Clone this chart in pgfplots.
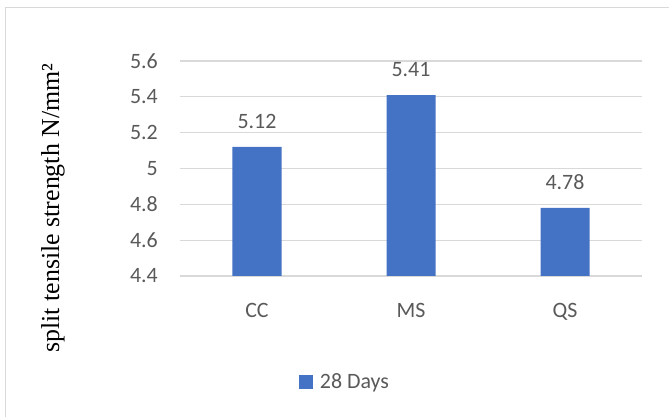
\documentclass[border=0pt]{standalone}
\usepackage{fontspec}
\setmainfont{Liberation Serif}
\newfontfamily\carlito{Carlito}
\usepackage{pgfplots}
\pgfplotsset{compat=1.18}
\definecolor{barblue}{HTML}{4472C4}
\definecolor{txtgray}{HTML}{595959}
\definecolor{gridgray}{HTML}{D9D9D9}
\begin{document}
\begin{tikzpicture}
\useasboundingbox (0,0) rectangle (669bp,417bp);
\begin{axis}[
  at={(180bp,141bp)}, anchor=south west,
  scale only axis, width=462bp, height=215bp,
  ymin=4.4, ymax=5.6,
  ytick={4.4,4.6,4.8,5,5.2,5.4,5.6},
  xmin=-0.5, xmax=2.5,
  xtick={0,1,2}, xticklabels={CC,MS,QS},
  axis line style={draw=none},
  major tick length=0pt,
  ymajorgrids, grid style={gridgray, line width=1.2bp},
  /pgf/number format/assume math mode=true,
  tick label style={font=\carlito\fontsize{22}{22}\selectfont, text=txtgray, inner sep=0pt},
  yticklabel style={xshift=-22bp},
  xticklabel style={yshift=-27bp},
  ylabel={split tensile strength N/mm²},
  ylabel style={font=\fontsize{26}{26}\selectfont, at={(axis description cs:-0.275,0.316)}, anchor=center},
  ybar, bar width=49bp,
  nodes near coords,
  nodes near coords style={font=\carlito\fontsize{22}{22}\selectfont, text=txtgray, inner sep=0pt, anchor=south, yshift=18bp},
  legend style={at={(axis description cs:0.357,-0.493)}, anchor=center, draw=none, fill=none,
    font=\carlito\fontsize{22}{22}\selectfont, text=txtgray, column sep=5bp},
  legend image code/.code={\fill[#1] (0bp,-7bp) rectangle (14bp,7bp);},
]
\addplot[fill=barblue, draw=none] coordinates {(0,5.12) (1,5.41) (2,4.78)};
\addlegendentry{28 Days}
\end{axis}
\draw[gridgray, line width=1.2bp] (5.5bp,-20bp) |- (700bp,409.5bp);
\end{tikzpicture}
\end{document}
